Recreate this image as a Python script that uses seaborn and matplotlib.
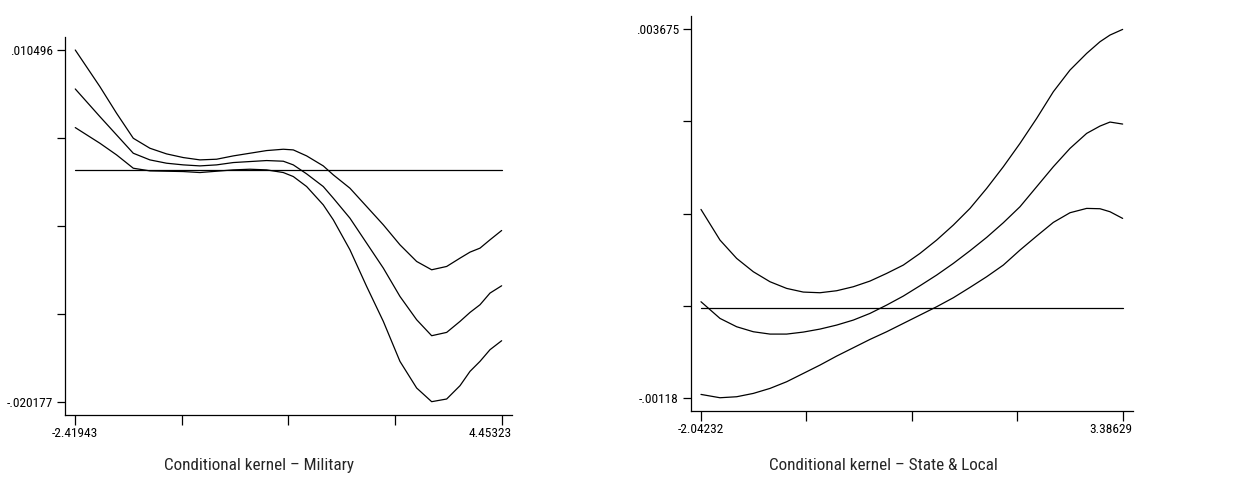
import numpy as np
import pandas as pd
import matplotlib
matplotlib.use("Agg")
import matplotlib.pyplot as plt
import matplotlib.transforms as mtransforms
from matplotlib import font_manager
import seaborn as sns

# ---------------- data: Military panel ----------------
mil_x = [-2.419, -2.022, -1.753, -1.484, -1.216, -0.947, -0.678, -0.410, -0.141,
         0.128, 0.396, 0.665, 0.934, 1.095, 1.310, 1.578, 1.740, 2.008, 2.277,
         2.546, 2.814, 3.083, 3.325, 3.567, 3.782, 3.943, 4.104, 4.265, 4.453]
mil_upper = [0.010496, 0.007304, 0.004982, 0.002806, 0.001935, 0.001442, 0.001123,
             0.000920, 0.000978, 0.001268, 0.001500, 0.001732, 0.001848, 0.001790,
             0.001268, 0.000397, -0.000386, -0.001547, -0.003143, -0.004739,
             -0.006480, -0.007931, -0.008656, -0.008366, -0.007641, -0.007118,
             -0.006770, -0.006045, -0.005232]
mil_mid = [0.007101, 0.004692, 0.003096, 0.001500, 0.000920, 0.000630, 0.000485,
           0.000397, 0.000485, 0.000688, 0.000775, 0.000862, 0.000804, 0.000485,
           -0.000299, -0.001402, -0.002417, -0.004159, -0.006335, -0.008511,
           -0.010978, -0.013009, -0.014402, -0.014112, -0.013154, -0.012371,
           -0.011703, -0.010688, -0.010049]
mil_lower = [0.003735, 0.002371, 0.001355, 0.000194, -0.000038, -0.000067, -0.000096,
             -0.000183, -0.000067, 0.000049, 0.000107, 0.000049, -0.000183, -0.000531,
             -0.001402, -0.002998, -0.004304, -0.006915, -0.010107, -0.013154,
             -0.016637, -0.018958, -0.020150, -0.019916, -0.018755, -0.017507,
             -0.016637, -0.015621, -0.014837]
mil_xticks = [-2.41943, -0.7012, 1.01691, 2.73507, 4.45323]
mil_xlabels = ["-2.41943", "", "", "", "4.45323"]
mil_yticks = [-0.020177, -0.012509, -0.004841, 0.002828, 0.010496]
mil_ylabels = ["-.020177", "", "", "", ".010496"]
mil_title = "Conditional kernel \u2013 Military"

# ---------------- data: State & Local panel ----------------
sl_x = [-2.0423, -1.7977, -1.5831, -1.3686, -1.1540, -0.9394, -0.7249, -0.5103,
        -0.2957, -0.0811, 0.1334, 0.3480, 0.5626, 0.7771, 0.9917, 1.2063, 1.4209,
        1.6354, 1.8500, 2.0646, 2.2791, 2.4937, 2.7083, 2.9229, 3.0945, 3.2233, 3.3863]
sl_upper = [0.0013024, 0.0008982, 0.0006565, 0.0004808, 0.0003490, 0.0002611,
            0.0002128, 0.0002040, 0.0002304, 0.0002831, 0.0003578, 0.0004588,
            0.0005687, 0.0007224, 0.0008982, 0.0010959, 0.0013156, 0.0015792,
            0.0018648, 0.0021724, 0.0025019, 0.0028534, 0.0031390, 0.0033587,
            0.0035124, 0.0036003, 0.003675]
sl_mid = [0.0000854, -0.0001343, -0.0002442, -0.0003101, -0.0003409, -0.0003409,
          -0.0003145, -0.0002750, -0.0002222, -0.0001563, -0.0000684, 0.0000414,
          0.0001601, 0.0002963, 0.0004369, 0.0005906, 0.0007576, 0.0009333,
          0.0011267, 0.0013376, 0.0016012, 0.0018648, 0.0021065, 0.0023042,
          0.0024008, 0.0024536, 0.0024272]
sl_lower = [-0.0011361, -0.00118, -0.0011668, -0.0011229, -0.0010570, -0.0009691,
            -0.0008593, -0.0007495, -0.0006308, -0.0005210, -0.0004111, -0.0003101,
            -0.0002002, -0.0000904, 0.0000195, 0.0001381, 0.0002743, 0.0004149,
            0.0005687, 0.0007664, 0.0009509, 0.0011311, 0.0012585, 0.0013156,
            0.0013112, 0.0012716, 0.0011838]
sl_xticks = [-2.04232, -0.68517, 0.671985, 2.02914, 3.38629]
sl_xlabels = ["-2.04232", "", "", "", "3.38629"]
sl_yticks = [-0.00118, 0.00003375, 0.0012475, 0.00246125, 0.003675]
sl_ylabels = ["-.00118", "", "", "", ".003675"]
sl_title = "Conditional kernel \u2013 State & Local"

# ---------------- style ----------------
sns.set_style("ticks")
names = {f.name for f in font_manager.fontManager.ttflist}
fams = [f for f in ["Roboto Condensed", "Archivo Narrow", "PT Sans Narrow", "Liberation Sans"]
        if f in names]
plt.rcParams["font.family"] = fams + ["DejaVu Sans"]

fig = plt.figure(figsize=(12.42, 4.86), dpi=100)
ax1 = fig.add_axes([0.0523, 0.1461, 0.3599, 0.7778])
ax2 = fig.add_axes([0.5561, 0.1549, 0.3564, 0.8121])


def draw(ax, x, curves, xticks, xlabels, yticks, ylabels, xlim, ylim):
    for c in curves:
        df = pd.DataFrame({"x": x, "y": c})
        sns.lineplot(data=df, x="x", y="y", ax=ax, color="black", linewidth=0.9,
                     sort=False, estimator=None)
    zero = pd.DataFrame({"x": [xticks[0], xticks[-1]], "y": [0.0, 0.0]})
    sns.lineplot(data=zero, x="x", y="y", ax=ax, color="black", linewidth=0.9,
                 estimator=None)
    ax.set_xlim(*xlim)
    ax.set_ylim(*ylim)
    ax.set_xticks(xticks)
    ax.set_xticklabels(xlabels)
    ax.set_yticks(yticks)
    ax.set_yticklabels(ylabels)
    ax.set_xlabel("")
    ax.set_ylabel("")
    for s in ["top", "right"]:
        ax.spines[s].set_visible(False)
    for s in ["left", "bottom"]:
        ax.spines[s].set_linewidth(0.9)
        ax.spines[s].set_color("black")
    ax.tick_params(axis="x", direction="out", length=7, width=0.9, pad=2,
                   labelsize=9.6, colors="black")
    ax.tick_params(axis="y", direction="out", length=5.5, width=0.9, pad=3,
                   labelsize=9.6, colors="black")
    lab = ax.get_xticklabels()[-1]
    lab.set_horizontalalignment("right")
    lab.set_transform(lab.get_transform() +
                      mtransforms.ScaledTranslation(10 / 100, 0, fig.dpi_scale_trans))


draw(ax1, mil_x, [mil_upper, mil_mid, mil_lower], mil_xticks, mil_xlabels,
     mil_yticks, mil_ylabels, (-2.585, 4.619), (-0.02131, 0.01163))
draw(ax2, sl_x, [sl_upper, sl_mid, sl_lower], sl_xticks, sl_xlabels,
     sl_yticks, sl_ylabels, (-2.175, 3.5236), (-0.001351, 0.003851))

fig.text(259 / 1242, 1 - 465 / 486, mil_title, ha="center", va="center", fontsize=12.3)
fig.text(883 / 1242, 1 - 465 / 486, sl_title, ha="center", va="center", fontsize=12.3)

fig.savefig("out.png", dpi=100)
